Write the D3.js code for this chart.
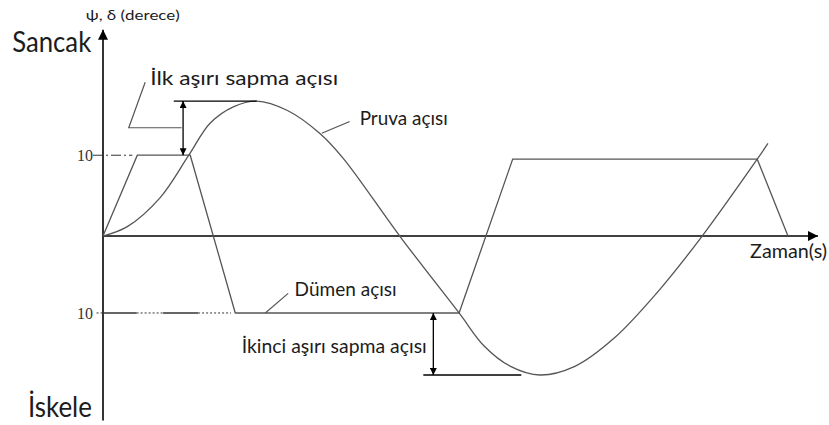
<!DOCTYPE html>
<meta charset="utf-8">
<style>
    body { margin: 0; background: #fff; }
    .axis-line { stroke: #000; stroke-width: 1.6px; fill: none; }
    .curve { fill: none; stroke: #555; stroke-width: 1.3px; }
    .note { fill: #1c1c1c; font-family: Lato, "Open Sans", sans-serif; }
    .tick-label { fill: #333; font-family: "Liberation Serif", "DejaVu Serif", serif; font-size: 16px; }
    .lead { fill: none; stroke: #555; stroke-width: 1.2px; }
</style>
<svg width="829" height="425"></svg>
<script src="https://d3js.org/d3.v7.min.js"></script>
<script>

    // heading angle (pruva açısı): [time, degrees]
    var headingT   = [0, 3.4, 8.0, 12.0, 15.0, 18.3, 21.5, 25.8, 30.3, 33.6, 41.5, 49.8, 53.3, 57.0, 61.1, 66.0, 71.5, 77.5, 83.8, 91.5, 93.0];
    var headingDeg = [0, 1.2, 4.9, 10.3, 14.4, 16.5, 17.2, 16.0, 13.1, 9.9, 0, -9.8, -14.0, -16.6, -17.7, -16.6, -13.0, -7.2, 0, 9.8, 11.8];

    // rudder angle (dümen açısı)
    var rudderT   = [0, 4.8, 12.2, 18.5, 49.8, 57.3, 91.5, 95.8];
    var rudderDeg = [0, 10.3, 10.3, -9.8, -9.8, 9.8, 9.8, 0];

    // y tick labels (both read as 10)
    var tickDeg    = [10.3, -9.8];
    var tickLabels = ["10", "10"];

    var svg = d3.select("svg");

    var x = d3.scaleLinear().domain([0, 100]).range([103, 818]),
        y = d3.scaleLinear().domain([-23.5, 26]).range([420.5, 32]);

    // arrow heads
    var defs = svg.append("defs");
    defs.append("marker")
        .attr("id", "tip")
        .attr("viewBox", "0 0 10 10")
        .attr("refX", 10).attr("refY", 5)
        .attr("markerWidth", 10).attr("markerHeight", 10)
        .attr("markerUnits", "userSpaceOnUse")
        .attr("orient", "auto")
        .append("path").attr("d", "M0,0L10,5L0,10Z").attr("fill", "#000");
    defs.append("marker")
        .attr("id", "small")
        .attr("viewBox", "0 0 10 10")
        .attr("refX", 10).attr("refY", 5)
        .attr("markerWidth", 7).attr("markerHeight", 7)
        .attr("markerUnits", "userSpaceOnUse")
        .attr("orient", "auto-start-reverse")
        .append("path").attr("d", "M0,0L10,5L0,10Z").attr("fill", "#000");

    // axes
    svg.append("line").attr("class", "axis-line")
        .attr("x1", x(0)).attr("y1", y(-23.5))
        .attr("x2", x(0)).attr("y2", y(26.3))
        .attr("marker-end", "url(#tip)");
    svg.append("line").attr("class", "axis-line")
        .attr("x1", x(0)).attr("y1", y(0))
        .attr("x2", x(100)).attr("y2", y(0))
        .attr("marker-end", "url(#tip)");

    // tick labels and guide lines
    svg.selectAll(".tick-label")
        .data(tickDeg)
        .enter().append("text")
        .attr("class", "tick-label")
        .attr("x", x(0) - 10)
        .attr("y", d => y(d) + 6)
        .attr("text-anchor", "end")
        .text((d, i) => tickLabels[i]);

    // upper guide: dash-dot up to the rudder corner
    svg.append("line")
        .attr("x1", x(0) - 10).attr("x2", x(rudderT[1]) - 5)
        .attr("y1", y(tickDeg[0])).attr("y2", y(tickDeg[0]))
        .attr("stroke", "#333").attr("stroke-width", 1)
        .attr("stroke-dasharray", "10,3,2,3");

    // lower guide: alternating solid and dotted pieces
    var lowGuide = [[-0.9, 0, true], [0, 4.7, false], [4.7, 8.4, true], [8.4, 13.3, false], [13.3, 17.9, true]];
    svg.selectAll(".low-guide")
        .data(lowGuide)
        .enter().append("line")
        .attr("class", "low-guide")
        .attr("x1", d => x(d[0])).attr("x2", d => x(d[1]))
        .attr("y1", y(tickDeg[1])).attr("y2", y(tickDeg[1]))
        .attr("stroke", "#333")
        .attr("stroke-width", d => d[2] ? 1 : 1.3)
        .attr("stroke-dasharray", d => d[2] ? "2,2" : null);

    // curves
    var heading = headingT.map((t, i) => [t, headingDeg[i]]);
    var rudder = rudderT.map((t, i) => [t, rudderDeg[i]]);

    svg.append("path").attr("class", "curve")
        .attr("d", d3.line().curve(d3.curveCatmullRom.alpha(0.5)).x(d => x(d[0])).y(d => y(d[1]))(heading));
    svg.append("path").attr("class", "curve")
        .attr("d", d3.line().x(d => x(d[0])).y(d => y(d[1]))(rudder));

    // first overshoot: horizontal at the peak and double arrow
    svg.append("line")
        .attr("x1", x(9.9)).attr("x2", x(21.5))
        .attr("y1", y(17.2)).attr("y2", y(17.2))
        .attr("stroke", "#000").attr("stroke-width", 1.3);
    svg.append("line")
        .attr("x1", x(11.2)).attr("x2", x(11.2))
        .attr("y1", y(17.2)).attr("y2", y(10.3))
        .attr("stroke", "#000").attr("stroke-width", 1.3)
        .attr("marker-start", "url(#small)").attr("marker-end", "url(#small)");

    // second overshoot
    svg.append("line")
        .attr("x1", x(44.8)).attr("x2", x(58.5))
        .attr("y1", y(-17.7)).attr("y2", y(-17.7))
        .attr("stroke", "#000").attr("stroke-width", 1.3);
    svg.append("line")
        .attr("x1", x(46.2)).attr("x2", x(46.2))
        .attr("y1", y(-9.8)).attr("y2", y(-17.7))
        .attr("stroke", "#000").attr("stroke-width", 1.3)
        .attr("marker-start", "url(#small)").attr("marker-end", "url(#small)");

    // leader lines
    var leaders = [
        [[5.9, 19.6], [3.6, 13.8], [11.0, 13.8]],
        [[30.6, 13.1], [34.5, 14.6]],
        [[22.7, -9.8], [25.9, -7.3]]
    ];
    svg.selectAll(".lead")
        .data(leaders)
        .enter().append("path")
        .attr("class", "lead")
        .attr("d", d3.line().x(d => x(d[0])).y(d => y(d[1])));

    // labels: [text, x(time), y(deg), size, width]
    var notes = [
        ["ψ, δ (derece)", -2.4, 27.5, 13, 94],
        ["Sancak", -12.7, 23.4, 28, 79],
        ["İskele", -10.5, -23.1, 28, 64],
        ["İlk aşırı sapma açısı", 6.6, 19.2, 19, 188],
        ["Pruva açısı", 35.9, 14.1, 19, 88],
        ["Dümen açısı", 26.8, -7.6, 19, 102],
        ["İkinci aşırı sapma açısı", 19.4, -14.9, 19, 185],
        ["Zaman(s)", 90.5, -2.8, 19, 77]
    ];
    svg.selectAll(".note")
        .data(notes)
        .enter().append("text")
        .attr("class", "note")
        .attr("x", d => x(d[1]))
        .attr("y", d => y(d[2]))
        .attr("font-size", d => d[3] + "px")
        .attr("textLength", d => d[4])
        .attr("lengthAdjust", "spacingAndGlyphs")
        .text(d => d[0]);

</script>
